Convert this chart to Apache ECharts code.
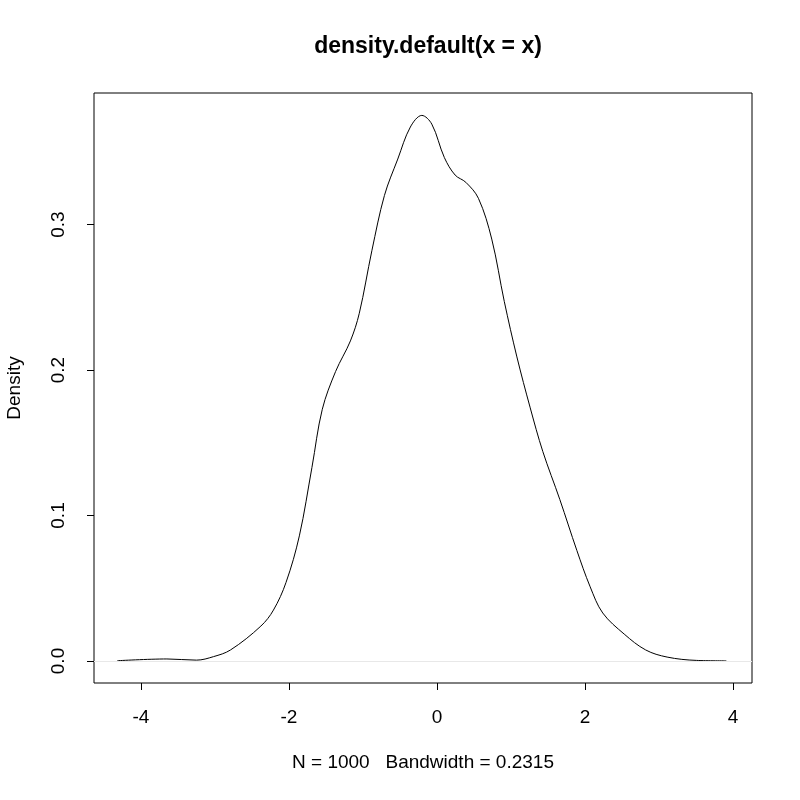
<!DOCTYPE html>
<html>
<head>
<meta charset="utf-8">
<script src="https://cdn.jsdelivr.net/npm/echarts@6/dist/echarts.min.js"></script>
<style>html,body{margin:0;padding:0;background:#fff}#c{width:800px;height:800px}</style>
</head>
<body>
<div id="c"></div>
<script>
var xs = [-4.32,-3.65,-3.25,-3.02,-2.79,-2.38,-2.21,-2.04,-1.86,-1.69,-1.55,-1.37,-1.17,-1.05,-0.88,-0.71,-0.53,-0.36,-0.205,-0.07,0.10,0.245,0.39,0.56,0.74,0.91,1.08,1.26,1.43,1.66,1.89,2.07,2.24,2.53,2.82,3.11,3.51,3.91];
var ys = [0.0002,0.0014,0.0006,0.003,0.0076,0.024,0.035,0.054,0.086,0.133,0.173,0.199,0.220,0.239,0.282,0.320,0.345,0.367,0.375,0.369,0.346,0.334,0.329,0.318,0.290,0.247,0.209,0.174,0.144,0.111,0.076,0.051,0.033,0.0185,0.0076,0.0027,0.0004,0.0001];
var xTicks = [-4,-2,0,2,4];
var yTicks = [0,0.1,0.2,0.3];
var titleText = 'density.default(x = x)';
var xName = 'N = 1000   Bandwidth = 0.2315';
var yName = 'Density';

var data = xs.map(function(x,i){return [x, ys[i]];});
var font = 'Liberation Sans, Arial, Helvetica, sans-serif';
var chart = echarts.init(document.getElementById('c'), null, {renderer:'canvas'});
chart.setOption({
  animation:false,
  backgroundColor:'#fff',
  title:{text:titleText,left:423,top:30,textAlign:'center',
    textStyle:{fontFamily:font,fontSize:23,fontWeight:'bold',color:'#000'}},
  grid:{left:94,right:48,top:93,bottom:117,containLabel:false,outerBoundsMode:'none',
    show:true,borderColor:'#000',borderWidth:1,backgroundColor:'transparent'},
  xAxis:{type:'value',min:-4.635,max:4.257,
    name:xName,nameLocation:'middle',nameGap:70,
    nameTextStyle:{fontFamily:font,fontSize:19,color:'#000'},
    axisLine:{show:false,onZero:false},splitLine:{show:false},
    axisTick:{show:true,inside:false,length:7,customValues:xTicks,lineStyle:{color:'#000'}},
    axisLabel:{customValues:xTicks,margin:25,fontFamily:font,fontSize:19,color:'#000',showMinLabel:true,showMaxLabel:true}
  },
  yAxis:{type:'value',min:-0.01512,max:0.3904,
    name:yName,nameLocation:'middle',nameGap:70,nameRotate:90,
    nameTextStyle:{fontFamily:font,fontSize:19,color:'#000'},
    axisLine:{show:false,onZero:false},splitLine:{show:false},
    axisTick:{show:true,inside:false,length:7,customValues:yTicks,lineStyle:{color:'#000'}},
    axisLabel:{customValues:yTicks,rotate:90,margin:26,fontFamily:font,fontSize:19,color:'#000',
      formatter:function(v){return v.toFixed(1);}}
  },
  series:[{type:'line',data:data,smooth:0.35,symbol:'none',
    lineStyle:{color:'#000',width:1},
    markLine:{silent:true,symbol:'none',label:{show:false},
      lineStyle:{color:'#e8e8e8',width:1,type:'solid'},data:[{yAxis:0}]}
  }]
});
</script>
</body>
</html>
